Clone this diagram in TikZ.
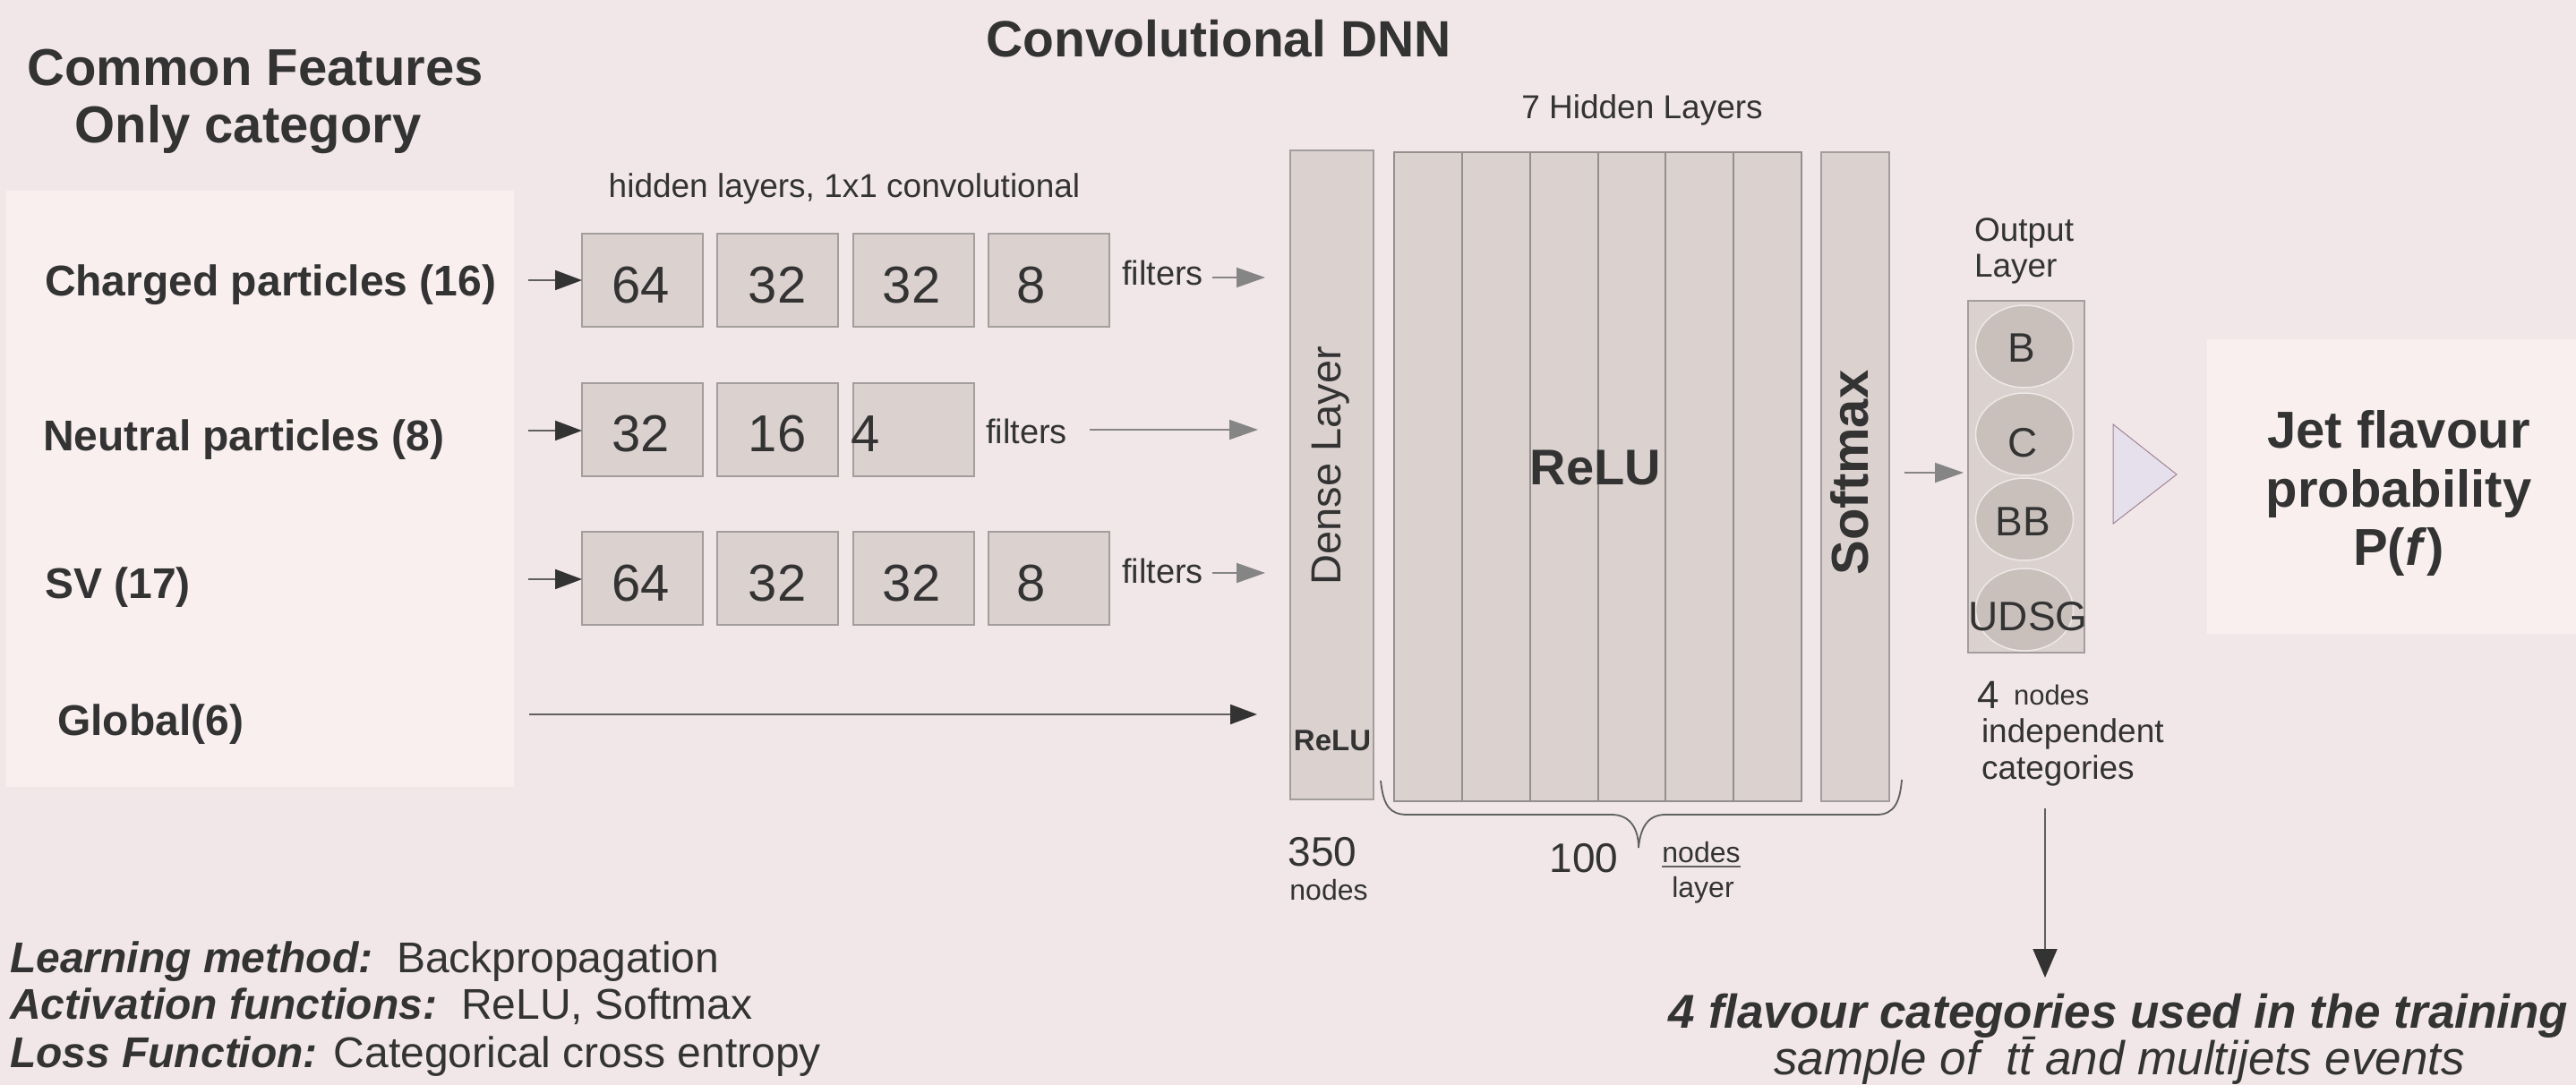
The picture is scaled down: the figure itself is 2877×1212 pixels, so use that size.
\documentclass[tikz,border=0pt]{standalone}
\usepackage{fontspec}
\setmainfont{Liberation Sans}
\usetikzlibrary{arrows.meta,shapes.geometric}
\definecolor{bg}{HTML}{F1E7E8}
\definecolor{panel}{HTML}{F9EFEF}
\definecolor{boxf}{HTML}{DBD2D0}
\definecolor{boxd}{HTML}{A39D9C}
\definecolor{boxd2}{HTML}{948E8D}
\definecolor{circf}{HTML}{C9C0BC}
\definecolor{circd}{HTML}{EEE8E6}
\definecolor{txt}{HTML}{333333}
\definecolor{garr}{HTML}{858585}
\definecolor{lineg}{HTML}{606060}
\definecolor{tri}{HTML}{E6E0EC}
\definecolor{trid}{HTML}{A08595}
\newcommand{\fs}[1]{\fontsize{#1}{#1}\selectfont}
\begin{document}
\begin{tikzpicture}[x=1pt,y=-1pt,
  every node/.style={text=txt,inner sep=0pt,outer sep=0pt},
  convbox/.style={draw=boxd,fill=boxf,line width=2pt,minimum width=135pt,minimum height=104pt},
  num/.style={anchor=base,font=\fs{58}},
  lab/.style={anchor=base west,font=\bfseries\fs{48}},
  filt/.style={anchor=base west,font=\fs{38}},
  garrow/.style={draw=garr,line width=2pt,-{Triangle[length=32pt,width=22pt,color=garr,fill=garr]}},
  barrow/.style={draw=lineg,line width=2pt,-{Triangle[length=30pt,width=22pt,color=txt,fill=txt]}},
  layerbox/.style={draw=boxd,fill=boxf,line width=2pt,minimum height=725pt},
  colbox/.style={draw=boxd2,fill=boxf,line width=2pt,minimum height=725pt,minimum width=75.8pt},
  outc/.style={ellipse,draw=circd,fill=circf,line width=1.5pt,minimum width=109pt,minimum height=92pt},
  outt/.style={anchor=base,font=\fs{46}},
  jett/.style={anchor=base,font=\bfseries\fs{58}},
  panelbox/.style={fill=panel,draw=none}
]
\useasboundingbox (0,0) rectangle (2877,1212);
\fill[bg] (0,0) rectangle (2877,1212);

% titles
\node[anchor=base,font=\bfseries\fs{57}] (title) at (1361,64) {Convolutional DNN};
\node[anchor=base,font=\bfseries\fs{58}] (cf1) at (285,96) {Common Features};
\node[anchor=base,font=\bfseries\fs{58}] (cf2) at (277,160) {Only category};

% left panel
\node[panelbox,minimum width=567pt,minimum height=666pt] (lpanel) at (290.5,546) {};
\node[lab] (lch) at (50,330) {Charged particles (16)};
\node[lab] (lne) at (48,503) {Neutral particles (8)};
\node[lab] (lsv) at (50,668) {SV (17)};
\node[lab] (lgl) at (64,821) {Global(6)};

\node[anchor=base,font=\fs{37}] (hid) at (943,220) {hidden layers, 1x1 convolutional};

% row 1
\node[convbox] (b11) at (717.5,313) {};
\node[convbox] (b12) at (868,313) {};
\node[convbox] (b13) at (1020,313) {};
\node[convbox] (b14) at (1171,313) {};
\node[num] (n11) at (716,338) {64};
\node[num] (n12) at (868,338) {32};
\node[num] (n13) at (1018,338) {32};
\node[num] (n14) at (1152,338) {8};
\node[filt] (f1) at (1253,318) {filters};
% row 2
\node[convbox] (b21) at (717.5,480) {};
\node[convbox] (b22) at (868,480) {};
\node[convbox] (b23) at (1020,480) {};
\node[num] (n21) at (716,504) {32};
\node[num] (n22) at (868,504) {16};
\node[num] (n23) at (967,504) {4};
\node[filt] (f2) at (1101,495) {filters};
% row 3
\node[convbox] (b31) at (717.5,646) {};
\node[convbox] (b32) at (868,646) {};
\node[convbox] (b33) at (1020,646) {};
\node[convbox] (b34) at (1171,646) {};
\node[num] (n31) at (716,671) {64};
\node[num] (n32) at (868,671) {32};
\node[num] (n33) at (1018,671) {32};
\node[num] (n34) at (1152,671) {8};
\node[filt] (f3) at (1253,651) {filters};

% input arrows
\coordinate (a1s) at (590,313);
\coordinate (a2s) at (590,481);
\coordinate (a3s) at (590,647);
\coordinate (ags) at (591,798);
\coordinate (age) at (1404,798);
\draw[barrow] (a1s) -- (b11.west);
\draw[barrow] (a2s) -- (b21.west |- a2s);
\draw[barrow] (a3s) -- (b31.west |- a3s);
\draw[barrow] (ags) -- (age);

% filters arrows
\coordinate (g1s) at (1354,310); \coordinate (g1e) at (1413,310);
\coordinate (g2s) at (1217,480); \coordinate (g2e) at (1405,480);
\coordinate (g3s) at (1354,640); \coordinate (g3e) at (1413,640);
\draw[garrow] (g1s) -- (g1e);
\draw[garrow] (g2s) -- (g2e);
\draw[garrow] (g3s) -- (g3e);

% dense layer
\node[layerbox,minimum width=93pt] (dense) at (1487.5,530.5) {};
\node[rotate=90,font=\fs{47}] (densel) at (1486,520) {Dense Layer};
\node[font=\bfseries\fs{33}] (relus) at (1488,827) {ReLU};

% hidden columns
\node[colbox] (h1) at (1595,532) {};
\node[colbox] (h2) at (1670.8,532) {};
\node[colbox] (h3) at (1746.6,532) {};
\node[colbox] (h4) at (1822.4,532) {};
\node[colbox] (h5) at (1898.2,532) {};
\node[colbox] (h6) at (1974,532) {};
\node[font=\bfseries\fs{56}] (relu) at (1782,523) {ReLU};
\node[anchor=base,font=\fs{37}] (seven) at (1834,133) {7 Hidden Layers};

% softmax
\node[layerbox,minimum width=76pt] (soft) at (2072,532) {};
\node[rotate=90,font=\bfseries\fs{58}] (softl) at (2066,528) {Softmax};

% brace
\draw[line width=1.8pt,draw=lineg] (1542,872) .. controls (1545,900) and (1552,910) .. (1572,910) -- (1800,910) .. controls (1820,910) and (1830,925) .. (1830,947) .. controls (1832,925) and (1840,910) .. (1860,910) -- (2096,910) .. controls (2116,910) and (2122,895) .. (2124,871);

\node[anchor=base,font=\fs{46}] (n350) at (1477,967) {350};
\node[anchor=base,font=\fs{32}] (n350n) at (1484,1005) {nodes};
\node[anchor=base,font=\fs{46}] (n100) at (1769,974) {100};
\node[anchor=base,font=\fs{32}] (nodesu) at (1900,963) {nodes};
\draw[line width=2pt,draw=lineg] ([yshift=-5pt]nodesu.south west) -- ([yshift=-5pt]nodesu.south east);
\node[anchor=base,font=\fs{32}] (layerl) at (1902,1002) {layer};

% output layer
\node[anchor=base west,font=\fs{37}] (outl1) at (2205,269) {Output};
\node[anchor=base west,font=\fs{37}] (outl2) at (2205,309) {Layer};
\node[draw=boxd,fill=boxf,line width=2pt,minimum width=130pt,minimum height=393pt] (outbox) at (2263,532.5) {};
\node[outc] (cB) at (2261,387) {};
\node[outc] (cC) at (2261,485) {};
\node[outc] (cBB) at (2261,580) {};
\node[outc] (cU) at (2261,681) {};
\node[outt] (tB) at (2258,404) {B};
\node[outt] (tC) at (2259,510) {C};
\node[outt] (tBB) at (2259,598) {BB};
\node[outt] (tU) at (2265,704) {UDSG};

\coordinate (sos) at (2127,528);
\coordinate (soe) at (2193,528);
\draw[garrow] (sos) -- (soe);

% triangle
\draw[fill=tri,draw=trid,line width=1pt] (2360,474) -- (2431,530) -- (2360,585) -- cycle;

% right panel
\node[panelbox,minimum width=412pt,minimum height=329pt] (rpanel) at (2671,543.5) {};
\node[jett] (jet1) at (2679,500) {Jet flavour};
\node[jett] (jet2) at (2679,566) {probability};
\node[jett] (jet3) at (2679,631) {P(\textit{f})};

% 4 nodes
\node[anchor=base west,font=\fs{44}] (four) at (2208,791) {4};
\node[anchor=base west,font=\fs{31}] (fourn) at (2249,787) {nodes};
\node[anchor=base west,font=\fs{37}] (indep) at (2213,829) {independent};
\node[anchor=base west,font=\fs{37}] (categ) at (2213,870) {categories};

\coordinate (dns) at (2284,903);
\coordinate (dne) at (2284,1092);
\draw[line width=2pt,draw=lineg,-{Triangle[length=32pt,width=27pt,color=txt,fill=txt]}] (dns) -- (dne);

\node[anchor=base,font=\bfseries\itshape\fs{53}] (flav) at (2366,1148) {4 flavour categories used in the training};
\node[anchor=base,font=\itshape\fs{53}] (samp) at (2367,1200) {sample of~ t\={t} and multijets events};

% bottom left
\node[anchor=base west,font=\fs{48}] (lm) at (11,1086) {\textbf{\textit{Learning method:}}~~Backpropagation};
\node[anchor=base west,font=\fs{48}] (af) at (11,1138) {\textbf{\textit{Activation functions:}}~~ReLU, Softmax};
\node[anchor=base west,font=\fs{48}] (lf) at (11,1192) {\textbf{\textit{Loss Function:}} Categorical cross entropy};
\end{tikzpicture}
\end{document}
